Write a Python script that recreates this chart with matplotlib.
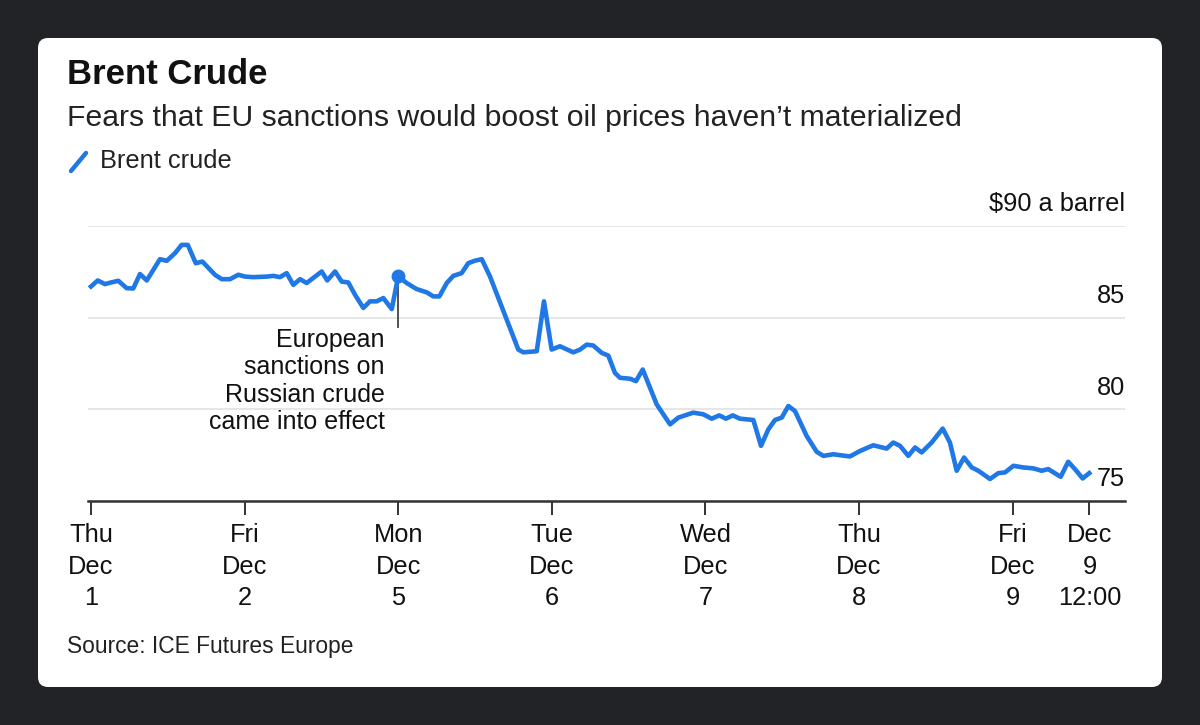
import matplotlib
matplotlib.use("Agg")
import matplotlib.pyplot as plt
from matplotlib.patches import FancyBboxPatch
from matplotlib.lines import Line2D
import matplotlib.transforms as mtransforms

plt.rcParams['font.family'] = ['Liberation Sans', 'DejaVu Sans']

# ---- data (x = trading-day position, 0 = Thu Dec 1 open) ----
days = [0.00, 0.044, 0.091, 0.130, 0.178, 0.232, 0.275, 0.319, 0.363, 0.449,
        0.493, 0.547, 0.590, 0.630, 0.682, 0.725, 0.807, 0.851, 0.905, 0.959,
        1.003, 1.057, 1.144, 1.187, 1.230, 1.274, 1.317, 1.361, 1.404, 1.502,
        1.538, 1.589, 1.632, 1.675, 1.719, 1.773, 1.816, 1.860, 1.903, 1.958,
        2.000, 2.055, 2.120, 2.186, 2.229, 2.268, 2.316, 2.359, 2.413, 2.456,
        2.500, 2.544, 2.598, 2.782, 2.815, 2.902, 2.949, 2.999, 3.053, 3.140,
        3.184, 3.227, 3.270, 3.325, 3.368, 3.411, 3.444, 3.509, 3.548, 3.592,
        3.683, 3.726, 3.770, 3.824, 3.889, 3.921, 3.986, 4.041, 4.090, 4.134,
        4.178, 4.225, 4.312, 4.362, 4.410, 4.453, 4.497, 4.540, 4.583, 4.659,
        4.725, 4.768, 4.833, 4.876, 4.941, 5.007, 5.093, 5.180, 5.223, 5.267,
        5.321, 5.365, 5.408, 5.473, 5.545, 5.592, 5.636, 5.684, 5.734, 5.777,
        5.853, 5.907, 5.951, 6.005, 6.070, 6.135, 6.189, 6.232, 6.313, 6.362,
        6.406, 6.456, 6.499]
prices = [86.70, 87.03, 86.83, 86.92, 87.01, 86.61, 86.59, 87.38, 87.03, 88.19,
          88.10, 88.52, 88.97, 88.97, 87.97, 88.06, 87.34, 87.10, 87.10, 87.34,
          87.24, 87.21, 87.24, 87.28, 87.21, 87.43, 86.79, 87.10, 86.89, 87.52,
          87.03, 87.52, 86.97, 86.92, 86.25, 85.53, 85.89, 85.89, 86.07, 85.47,
          87.25, 86.89, 86.56, 86.38, 86.16, 86.16, 86.89, 87.28, 87.43, 87.97,
          88.11, 88.19, 87.24, 83.26, 83.11, 83.17, 85.89, 83.26, 83.44, 83.11,
          83.26, 83.53, 83.48, 83.08, 82.93, 81.99, 81.72, 81.67, 81.54, 82.17,
          80.27, 79.73, 79.18, 79.55, 79.73, 79.82, 79.73, 79.49, 79.67, 79.49,
          79.67, 79.49, 79.42, 78.01, 78.91, 79.42, 79.55, 80.18, 79.91, 78.55,
          77.68, 77.46, 77.55, 77.50, 77.43, 77.73, 78.04, 77.86, 78.19, 78.01,
          77.46, 77.92, 77.65, 78.19, 78.95, 78.19, 76.65, 77.37, 76.83, 76.65,
          76.20, 76.52, 76.56, 76.92, 76.83, 76.78, 76.65, 76.74, 76.32, 77.14,
          76.74, 76.23, 76.52]

tick_pos = [0, 1, 2, 3, 4, 5, 6, 6.5]
tick_labels = ["Thu\nDec\n1", "Fri\nDec\n2", "Mon\nDec\n5", "Tue\nDec\n6",
               "Wed\nDec\n7", "Thu\nDec\n8", "Fri\nDec\n9", "Dec\n9\n12:00"]
y_ticks = [75, 80, 85, 90]
y_labels = ["75", "80", "85", "$90 a barrel"]

event_day = 2.0
event_price = 87.25
event_text = "European\nsanctions on\nRussian crude\ncame into effect"

BLUE = '#1f78e6'
W, H = 1200, 725
fig = plt.figure(figsize=(W / 100, H / 100), dpi=100)
fig.patch.set_facecolor('#222327')

card = FancyBboxPatch((0.38, 0.38), 11.24, 6.49,
                      boxstyle="round,pad=0,rounding_size=0.10",
                      transform=fig.dpi_scale_trans, facecolor='white',
                      edgecolor='none', zorder=-10)
fig.patches.append(card)

def fx(px):
    return px / W

def fy(py):
    return 1 - py / H

# titles
fig.text(fx(67), fy(74), "Brent Crude", fontsize=25, fontweight='bold',
         color='#111111', va='center', ha='left')
fig.text(fx(67), fy(118), "Fears that EU sanctions would boost oil prices haven\u2019t materialized",
         fontsize=21.7, color='#222222', va='center', ha='left')
fig.text(fx(100), fy(161), "Brent crude", fontsize=18.3, color='#222222',
         va='center', ha='left')
fig.lines.append(Line2D([fx(71), fx(86)], [fy(171), fy(153)], color=BLUE,
                        lw=3.2, solid_capstyle='round', transform=fig.transFigure))
fig.text(fx(67), fy(647), "Source: ICE Futures Europe", fontsize=16.4,
         color='#222222', va='center', ha='left')

# axes
left, right, top, bottom = 88, 1125, 226, 501
ax = fig.add_axes([fx(left), fy(bottom), fx(right - left), (bottom - top) / H])
ax.set_facecolor('none')
px_per_day = 153.6
ax.set_xlim((left - 91) / px_per_day, (right - 91) / px_per_day)
ax.set_ylim(75, 90)

for s in ['top', 'right', 'left']:
    ax.spines[s].set_visible(False)
ax.spines['bottom'].set_color('#333333')
ax.spines['bottom'].set_linewidth(1.8)

ax.set_yticks(y_ticks)
ax.yaxis.set_tick_params(length=0, labelleft=False)
ax.grid(axis='y', color='#e6e6e6', lw=1.4, zorder=0)

ax.set_xticks(tick_pos)
ax.set_xticklabels(tick_labels, fontsize=18.3, color='#111111', linespacing=1.4)
ax.tick_params(axis='x', length=10, width=1.4, color='#333333', pad=6)

trans = mtransforms.blended_transform_factory(ax.transAxes, ax.transData)
for v, lab in zip(y_ticks, y_labels):
    ax.text(1.0, v + 0.52, lab, transform=trans, ha='right', va='bottom',
            fontsize=18.3, color='#111111')

ax.plot(days, prices, color=BLUE, lw=3.3, solid_joinstyle='round', zorder=3)

# annotation
ax.plot([event_day, event_day], [event_price, 84.5], color='#444444', lw=1.3, zorder=2)
ax.plot([event_day], [event_price], 'o', color=BLUE, ms=9, zorder=4)
ax.text(event_day - 0.09, 84.45, event_text, ha='right', va='top',
        fontsize=18, color='#111111', linespacing=1.18)

fig.savefig("out.png", dpi=100, facecolor=fig.get_facecolor())
